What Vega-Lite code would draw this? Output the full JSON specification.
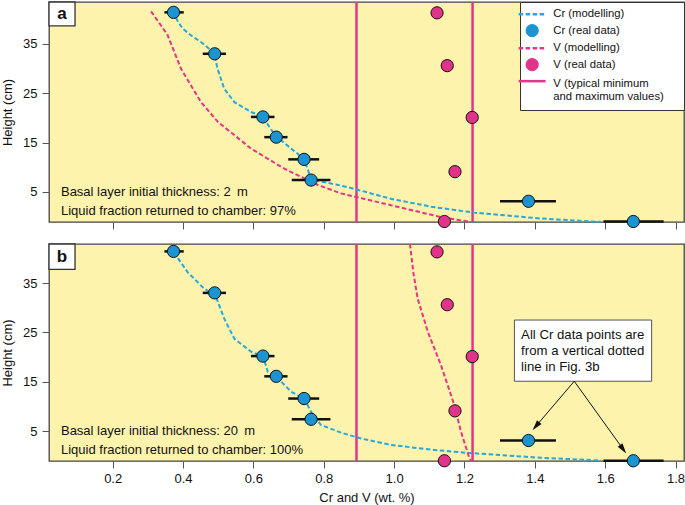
{
  "$schema": "https://vega.github.io/schema/vega-lite/v6.json",
  "padding": {"left": 0, "top": 0, "right": 2, "bottom": 0},
  "bounds": "flush",
  "spacing": 22,
  "config": {
    "font": "Liberation Sans",
    "view": {"stroke": "#444", "strokeWidth": 1.3, "fill": "#FEF3AC"},
    "axis": {"domain": false, "grid": false, "tickColor": "#555", "tickSize": 7, "tickWidth": 1, "labelFontSize": 13, "labelColor": "#111", "labelFont": "Liberation Sans", "titleFont": "Liberation Sans", "titleFontSize": 13, "titleFontWeight": "normal", "titleColor": "#111"},
    "legend": {"labelFontSize": 11.3, "labelFont": "Liberation Sans", "labelColor": "#111"}
  },
  "datasets": {
    "crReal": [
      {"x": 0.373, "y": 41.4, "xmin": 0.347, "xmax": 0.402},
      {"x": 0.490, "y": 33.0, "xmin": 0.456, "xmax": 0.522},
      {"x": 0.627, "y": 20.2, "xmin": 0.593, "xmax": 0.660},
      {"x": 0.665, "y": 16.1, "xmin": 0.631, "xmax": 0.697},
      {"x": 0.744, "y": 11.6, "xmin": 0.699, "xmax": 0.787},
      {"x": 0.764, "y": 7.4, "xmin": 0.709, "xmax": 0.819},
      {"x": 1.382, "y": 3.1, "xmin": 1.301, "xmax": 1.460},
      {"x": 1.680, "y": -1.0, "xmin": 1.595, "xmax": 1.766}
    ],
    "vReal": [
      {"x": 1.122, "y": 41.3},
      {"x": 1.151, "y": 30.6},
      {"x": 1.222, "y": 20.1},
      {"x": 1.173, "y": 9.1},
      {"x": 1.143, "y": -1.0}
    ],
    "vLimits": [{"x": 0.893}, {"x": 1.223}],
    "crModelA": [
      {"x": 0.371, "y": 41.6}, {"x": 0.385, "y": 39.6}, {"x": 0.399, "y": 38.1}, {"x": 0.425, "y": 36.6},
      {"x": 0.451, "y": 35.4}, {"x": 0.488, "y": 33.2}, {"x": 0.498, "y": 30.0}, {"x": 0.517, "y": 25.9},
      {"x": 0.546, "y": 23.2}, {"x": 0.593, "y": 21.2}, {"x": 0.626, "y": 20.4}, {"x": 0.645, "y": 18.2},
      {"x": 0.664, "y": 16.3}, {"x": 0.707, "y": 13.8}, {"x": 0.743, "y": 11.75}, {"x": 0.754, "y": 9.7},
      {"x": 0.764, "y": 7.6}, {"x": 0.792, "y": 7.1}, {"x": 0.835, "y": 6.5}, {"x": 0.877, "y": 5.8},
      {"x": 0.991, "y": 3.6}, {"x": 1.105, "y": 2.0}, {"x": 1.227, "y": 0.8}, {"x": 1.418, "y": -0.4},
      {"x": 1.588, "y": -1.1}
    ],
    "vModelA": [
      {"x": 0.309, "y": 41.6}, {"x": 0.33, "y": 39.5}, {"x": 0.356, "y": 36.8}, {"x": 0.394, "y": 30.0},
      {"x": 0.451, "y": 23.2}, {"x": 0.499, "y": 19.2}, {"x": 0.593, "y": 13.8}, {"x": 0.688, "y": 9.7},
      {"x": 0.783, "y": 6.4}, {"x": 0.849, "y": 4.7}, {"x": 0.991, "y": 2.3}, {"x": 1.133, "y": -0.1},
      {"x": 1.218, "y": -1.1}
    ],
    "crModelB": [
      {"x": 0.374, "y": 41.2}, {"x": 0.413, "y": 37.2}, {"x": 0.460, "y": 33.85}, {"x": 0.492, "y": 32.5},
      {"x": 0.517, "y": 27.8}, {"x": 0.546, "y": 23.7}, {"x": 0.593, "y": 21.1}, {"x": 0.628, "y": 20.05},
      {"x": 0.641, "y": 17.0}, {"x": 0.666, "y": 15.95}, {"x": 0.707, "y": 13.0}, {"x": 0.745, "y": 11.5},
      {"x": 0.764, "y": 8.9}, {"x": 0.792, "y": 6.25}, {"x": 0.849, "y": 4.7}, {"x": 0.906, "y": 3.5},
      {"x": 0.991, "y": 2.2}, {"x": 1.105, "y": 1.25}, {"x": 1.209, "y": 0.6}, {"x": 1.418, "y": -0.4},
      {"x": 1.588, "y": -0.95}
    ],
    "vModelB": [
      {"x": 1.045, "y": 42.9}, {"x": 1.055, "y": 37.0}, {"x": 1.067, "y": 31.8}, {"x": 1.096, "y": 25.1},
      {"x": 1.133, "y": 18.4}, {"x": 1.171, "y": 10.3}, {"x": 1.190, "y": 4.9}, {"x": 1.214, "y": -0.5},
      {"x": 1.219, "y": -1.0}
    ]
  },
  "resolve": {"scale": {"color": "independent"}, "legend": {"color": "independent"}},
  "vconcat": [
    {
      "width": 635,
      "height": 220,
      "layer": [
        {
          "data": {"name": "vLimits"},
          "mark": {"type": "rule", "strokeWidth": 2.5},
          "encoding": {
            "x": {"field": "x", "type": "quantitative",
                  "scale": {"domain": [0.019, 1.824], "nice": false, "zero": false},
                  "axis": {"values": [0.2, 0.4, 0.6, 0.8, 1.0, 1.2, 1.4, 1.6, 1.8], "labels": false, "title": null}},
            "color": {"datum": "V (typical minimum and maximum values)",
                      "scale": {"domain": ["Cr (modelling)", "Cr (real data)", "V (modelling)", "V (real data)", "V (typical minimum and maximum values)"],
                                "range": ["#25A8E0", "#1B95D2", "#E6338B", "#E2338A", "#E6338B"]},
                      "legend": {
                        "title": "\u00a0",
                        "titleOrient": "right",
                        "titlePadding": 13.5,
                        "titleFontSize": 11,
                        "orient": "top-right",
                        "offset": 0,
                        "padding": 6.5,
                        "fillColor": "white",
                        "strokeColor": "#333",
                        "symbolType": "stroke",
                        "symbolSize": 729,
                        "symbolStrokeWidth": 2.5,
                        "labelFontSize": 11.3,
                        "labelFont": "Liberation Sans",
                        "labelColor": "#111",
                        "labelOffset": 15.5,
                        "labelLimit": 300,
                        "rowPadding": 2.5,
                        "labelExpr": "datum.label == 'V (typical minimum and maximum values)' ? ['V (typical minimum', 'and maximum values)'] : datum.label",
                        "encode": {
                          "labels": {
                            "update": {
                              "dy": {"signal": "datum.value == 'V (typical minimum and maximum values)' ? 3 : 0"}
                            }
                          },
                          "symbols": {
                            "update": {
                              "shape": {"signal": "(datum.value == 'Cr (real data)' || datum.value == 'V (real data)') ? 'circle' : 'stroke'"},
                              "size": {"signal": "(datum.value == 'Cr (real data)' || datum.value == 'V (real data)') ? 150 : 729"},
                              "strokeDash": {"signal": "(datum.value == 'Cr (modelling)' || datum.value == 'V (modelling)') ? [4.5, 2.5] : [30, 0]"},
                              "fill": {"signal": "datum.value == 'Cr (real data)' ? '#1B95D2' : (datum.value == 'V (real data)' ? '#E2338A' : 'transparent')"},
                              "stroke": {"signal": "(datum.value == 'Cr (real data)' || datum.value == 'V (real data)') ? '#111' : (datum.value == 'Cr (modelling)' ? '#25A8E0' : '#E6338B')"},
                              "strokeWidth": {"signal": "(datum.value == 'Cr (real data)' || datum.value == 'V (real data)') ? 1 : 2.5"},
                              "opacity": {"value": 1}
                            }
                          }
                        }
                      }}
          }
        },
        {
          "data": {"name": "crModelA"},
          "mark": {"type": "line", "strokeDash": [4.5, 2.5], "strokeWidth": 2},
          "encoding": {
            "x": {"field": "x", "type": "quantitative"},
            "y": {"field": "y", "type": "quantitative",
                  "scale": {"domain": [-1.1, 43.5], "nice": false, "zero": false},
                  "axis": {"values": [5, 15, 25, 35], "title": "Height (cm)", "titlePadding": 8, "labelPadding": 5}},
            "color": {"datum": "Cr (modelling)"}
          }
        },
        {
          "data": {"name": "vModelA"},
          "mark": {"type": "line", "strokeDash": [4.5, 2.5], "strokeWidth": 2},
          "encoding": {
            "x": {"field": "x", "type": "quantitative"},
            "y": {"field": "y", "type": "quantitative"},
            "color": {"datum": "V (modelling)"}
          }
        },
        {
          "data": {"name": "crReal"},
          "mark": {"type": "rule", "strokeWidth": 2.5, "color": "#111"},
          "encoding": {
            "x": {"field": "xmin", "type": "quantitative"},
            "x2": {"field": "xmax"},
            "y": {"field": "y", "type": "quantitative"}
          }
        },
        {
          "data": {"name": "vReal"},
          "mark": {"type": "point", "filled": true, "size": 150, "stroke": "#111", "strokeWidth": 1, "opacity": 1},
          "encoding": {
            "x": {"field": "x", "type": "quantitative"},
            "y": {"field": "y", "type": "quantitative"},
            "color": {"datum": "V (real data)"}
          }
        },
        {
          "data": {"name": "crReal"},
          "mark": {"type": "point", "filled": true, "size": 150, "stroke": "#111", "strokeWidth": 1, "opacity": 1},
          "encoding": {
            "x": {"field": "x", "type": "quantitative"},
            "y": {"field": "y", "type": "quantitative"},
            "color": {"datum": "Cr (real data)"}
          }
        },
        {
          "data": {"values": [{}]},
          "mark": {"type": "text", "align": "left", "baseline": "middle", "fontSize": 13, "color": "#111"},
          "encoding": {
            "x": {"datum": 0.053, "type": "quantitative"},
            "y": {"datum": 5, "type": "quantitative"},
            "text": {"value": "Basal layer initial thickness: 2\u2009 m"}
          }
        },
        {
          "data": {"values": [{}]},
          "mark": {"type": "text", "align": "left", "baseline": "middle", "fontSize": 13, "color": "#111"},
          "encoding": {
            "x": {"datum": 0.053, "type": "quantitative"},
            "y": {"datum": 1.15, "type": "quantitative"},
            "text": {"value": "Liquid fraction returned to chamber: 97%"}
          }
        },
        {
          "data": {"values": [{}]},
          "mark": {"type": "rect", "fill": "white", "stroke": "#333", "strokeWidth": 1.3},
          "encoding": {
            "x": {"datum": 0.019, "type": "quantitative"},
            "x2": {"datum": 0.093},
            "y": {"datum": 43.5, "type": "quantitative"},
            "y2": {"datum": 38.65}
          }
        },
        {
          "data": {"values": [{}]},
          "mark": {"type": "text", "align": "center", "baseline": "middle", "fontSize": 17, "fontWeight": "bold", "color": "#111"},
          "encoding": {
            "x": {"datum": 0.056, "type": "quantitative"},
            "y": {"datum": 41.1, "type": "quantitative"},
            "text": {"value": "a"}
          }
        }
      ]
    },
    {
      "width": 635,
      "height": 217,
      "layer": [
        {
          "data": {"name": "vLimits"},
          "mark": {"type": "rule", "strokeWidth": 2.5},
          "encoding": {
            "x": {"field": "x", "type": "quantitative",
                  "scale": {"domain": [0.019, 1.824], "nice": false, "zero": false},
                  "axis": {"values": [0.2, 0.4, 0.6, 0.8, 1.0, 1.2, 1.4, 1.6, 1.8], "format": ".1f", "labelPadding": 4, "title": "Cr and V (wt. %)", "titlePadding": 6}},
            "color": {"datum": "V (typical minimum and maximum values)",
                      "scale": {"domain": ["Cr (modelling)", "Cr (real data)", "V (modelling)", "V (real data)", "V (typical minimum and maximum values)"],
                                "range": ["#25A8E0", "#1B95D2", "#E6338B", "#E2338A", "#E6338B"]},
                      "legend": null}
          }
        },
        {
          "data": {"name": "crModelB"},
          "mark": {"type": "line", "strokeDash": [4.5, 2.5], "strokeWidth": 2},
          "encoding": {
            "x": {"field": "x", "type": "quantitative"},
            "y": {"field": "y", "type": "quantitative",
                  "scale": {"domain": [-1.05, 42.9], "nice": false, "zero": false},
                  "axis": {"values": [5, 15, 25, 35], "title": "Height (cm)", "titlePadding": 8, "labelPadding": 5}},
            "color": {"datum": "Cr (modelling)", "legend": null}
          }
        },
        {
          "data": {"name": "vModelB"},
          "mark": {"type": "line", "strokeDash": [4.5, 2.5], "strokeWidth": 2, "clip": true},
          "encoding": {
            "x": {"field": "x", "type": "quantitative"},
            "y": {"field": "y", "type": "quantitative"},
            "color": {"datum": "V (modelling)", "legend": null}
          }
        },
        {
          "data": {"name": "crReal"},
          "mark": {"type": "rule", "strokeWidth": 2.5, "color": "#111"},
          "encoding": {
            "x": {"field": "xmin", "type": "quantitative"},
            "x2": {"field": "xmax"},
            "y": {"field": "y", "type": "quantitative"}
          }
        },
        {
          "data": {"name": "vReal"},
          "mark": {"type": "point", "filled": true, "size": 150, "stroke": "#111", "strokeWidth": 1, "opacity": 1},
          "encoding": {
            "x": {"field": "x", "type": "quantitative"},
            "y": {"field": "y", "type": "quantitative"},
            "color": {"datum": "V (real data)", "legend": null}
          }
        },
        {
          "data": {"name": "crReal"},
          "mark": {"type": "point", "filled": true, "size": 150, "stroke": "#111", "strokeWidth": 1, "opacity": 1},
          "encoding": {
            "x": {"field": "x", "type": "quantitative"},
            "y": {"field": "y", "type": "quantitative"},
            "color": {"datum": "Cr (real data)", "legend": null}
          }
        },
        {
          "data": {"values": [{}]},
          "mark": {"type": "text", "align": "left", "baseline": "middle", "fontSize": 13, "color": "#111"},
          "encoding": {
            "x": {"datum": 0.053, "type": "quantitative"},
            "y": {"datum": 5, "type": "quantitative"},
            "text": {"value": "Basal layer initial thickness: 20\u2009 m"}
          }
        },
        {
          "data": {"values": [{}]},
          "mark": {"type": "text", "align": "left", "baseline": "middle", "fontSize": 13, "color": "#111"},
          "encoding": {
            "x": {"datum": 0.053, "type": "quantitative"},
            "y": {"datum": 1.15, "type": "quantitative"},
            "text": {"value": "Liquid fraction returned to chamber: 100%"}
          }
        },
        {
          "data": {"values": [{}]},
          "mark": {"type": "rect", "fill": "white", "stroke": "#333", "strokeWidth": 1.3},
          "encoding": {
            "x": {"datum": 0.019, "type": "quantitative"},
            "x2": {"datum": 0.093},
            "y": {"datum": 42.9, "type": "quantitative"},
            "y2": {"datum": 37.77}
          }
        },
        {
          "data": {"values": [{}]},
          "mark": {"type": "text", "align": "center", "baseline": "middle", "fontSize": 17, "fontWeight": "bold", "color": "#111"},
          "encoding": {
            "x": {"datum": 0.056, "type": "quantitative"},
            "y": {"datum": 40.3, "type": "quantitative"},
            "text": {"value": "b"}
          }
        },
        {
          "data": {"values": [{}]},
          "mark": {"type": "rect", "fill": "white", "stroke": "#555", "strokeWidth": 1},
          "encoding": {
            "x": {"datum": 1.342, "type": "quantitative"},
            "x2": {"datum": 1.732},
            "y": {"datum": 27.5, "type": "quantitative"},
            "y2": {"datum": 15.1}
          }
        },
        {
          "data": {"values": [{}]},
          "mark": {"type": "text", "align": "left", "baseline": "middle", "fontSize": 13.2, "color": "#111"},
          "encoding": {
            "x": {"datum": 1.361, "type": "quantitative"},
            "y": {"datum": 24.43, "type": "quantitative"},
            "text": {"value": "All Cr data points are"}
          }
        },
        {
          "data": {"values": [{}]},
          "mark": {"type": "text", "align": "left", "baseline": "middle", "fontSize": 13.2, "color": "#111"},
          "encoding": {
            "x": {"datum": 1.361, "type": "quantitative"},
            "y": {"datum": 21.26, "type": "quantitative"},
            "text": {"value": "from a vertical dotted"}
          }
        },
        {
          "data": {"values": [{}]},
          "mark": {"type": "text", "align": "left", "baseline": "middle", "fontSize": 13.2, "color": "#111"},
          "encoding": {
            "x": {"datum": 1.361, "type": "quantitative"},
            "y": {"datum": 18.03, "type": "quantitative"},
            "text": {"value": "line in Fig. 3b"}
          }
        },
        {
          "data": {"values": [{}]},
          "mark": {"type": "rule", "strokeWidth": 1, "color": "#111"},
          "encoding": {
            "x": {"datum": 1.512, "type": "quantitative"},
            "y": {"datum": 15.1, "type": "quantitative"},
            "x2": {"datum": 1.403},
            "y2": {"datum": 6.0}
          }
        },
        {
          "data": {"values": [{}]},
          "mark": {"type": "rule", "strokeWidth": 1, "color": "#111"},
          "encoding": {
            "x": {"datum": 1.512, "type": "quantitative"},
            "y": {"datum": 15.1, "type": "quantitative"},
            "x2": {"datum": 1.651},
            "y2": {"datum": 1.34}
          }
        },
        {
          "data": {"values": [{}]},
          "mark": {"type": "point", "shape": "M0,-1L0.55,1L-0.55,1Z", "filled": true, "color": "#111", "opacity": 1, "size": 110, "angle": 220},
          "encoding": {
            "x": {"datum": 1.403, "type": "quantitative"},
            "y": {"datum": 6.0, "type": "quantitative"}
          }
        },
        {
          "data": {"values": [{}]},
          "mark": {"type": "point", "shape": "M0,-1L0.55,1L-0.55,1Z", "filled": true, "color": "#111", "opacity": 1, "size": 110, "angle": 144},
          "encoding": {
            "x": {"datum": 1.651, "type": "quantitative"},
            "y": {"datum": 1.34, "type": "quantitative"}
          }
        }
      ]
    }
  ]
}
